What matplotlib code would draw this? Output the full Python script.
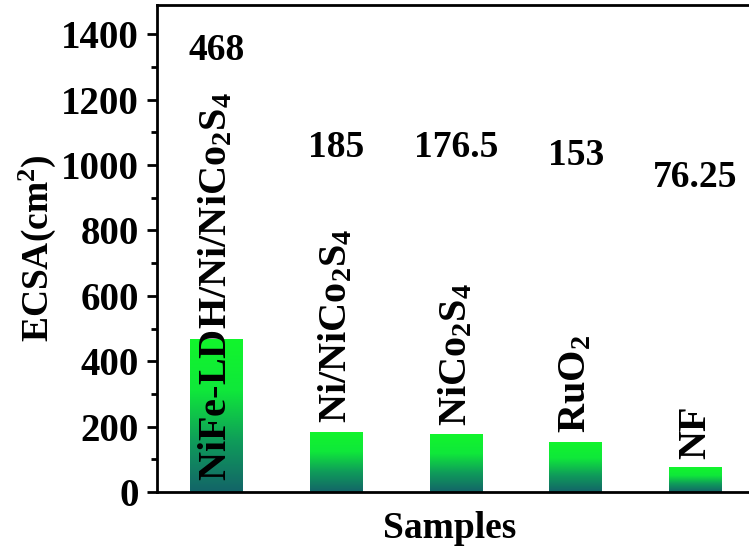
import numpy as np
import matplotlib
matplotlib.use('Agg')
import matplotlib.pyplot as plt
from matplotlib.colors import LinearSegmentedColormap
from matplotlib.ticker import MultipleLocator

plt.rcParams['font.family'] = ['Liberation Serif', 'DejaVu Serif']
plt.rcParams['font.weight'] = 'bold'
plt.rcParams['mathtext.fontset'] = 'custom'
plt.rcParams['mathtext.rm'] = 'Liberation Serif:bold'
plt.rcParams['mathtext.it'] = 'Liberation Serif:bold'
plt.rcParams['mathtext.bf'] = 'Liberation Serif:bold'
plt.rcParams['mathtext.default'] = 'bf'

# data
samples = ['NiFe-LDH/Ni/NiCo$_2$S$_4$', 'Ni/NiCo$_2$S$_4$', 'NiCo$_2$S$_4$', 'RuO$_2$', 'NF']
ecsa = [468, 185, 176.5, 153, 76.25]
value_text = ['468', '185', '176.5', '153', '76.25']

# where the texts sit (data units)
value_y = [1352, 1055, 1055, 1030, 962]
name_y = [35, 212, 203, 180, 102]

fig = plt.figure(figsize=(7.49, 5.56), dpi=100)
ax = fig.add_axes([0.2092, 0.1151, 0.86, 0.876])

x = np.arange(len(ecsa))
bars = ax.bar(x, ecsa, width=0.44, color='none', edgecolor='none', zorder=2)

# vertical gradient: dark teal at the bottom, bright green on top
cmap = LinearSegmentedColormap.from_list('g', ['#136468', '#0f9c5a', '#0fe83a', '#12f52c'])
grad = np.linspace(0, 1, 256).reshape(-1, 1)
for b in bars:
    x0, y0 = b.get_x(), b.get_y()
    w, h = b.get_width(), b.get_height()
    im = ax.imshow(grad, cmap=cmap, origin='lower', aspect='auto',
                   extent=[x0, x0 + w, y0, y0 + h], zorder=2)
    im.set_clip_path(b)

for xi, txt, vy in zip(x, value_text, value_y):
    ax.text(xi, vy, txt, ha='center', va='center', fontsize=27, fontweight='bold', zorder=3)

for xi, name, ny in zip(x, samples, name_y):
    ax.text(xi, ny, name, ha='center', va='bottom', rotation=90, fontsize=29,
            fontweight='bold', zorder=3)

ax.set_xlim(-0.5, 4.88)
ax.set_ylim(0, 1490)
ax.yaxis.set_major_locator(MultipleLocator(200))
ax.yaxis.set_minor_locator(MultipleLocator(100))
ax.set_xticks([])
ax.tick_params(axis='y', which='major', direction='out', length=7, width=2, labelsize=28, pad=6)
ax.tick_params(axis='y', which='minor', direction='out', length=4, width=2)
for lbl in ax.get_yticklabels():
    lbl.set_fontweight('bold')
for s in ax.spines.values():
    s.set_linewidth(2)

ax.set_ylabel('ECSA(cm$^2$)', fontsize=27, fontweight='bold', labelpad=2)
ax.set_xlabel('Samples', fontsize=27, fontweight='bold')
ax.xaxis.set_label_coords((450 - 156.7) / (0.86 * 749), -0.04)

fig.savefig('out.png', dpi=100)
